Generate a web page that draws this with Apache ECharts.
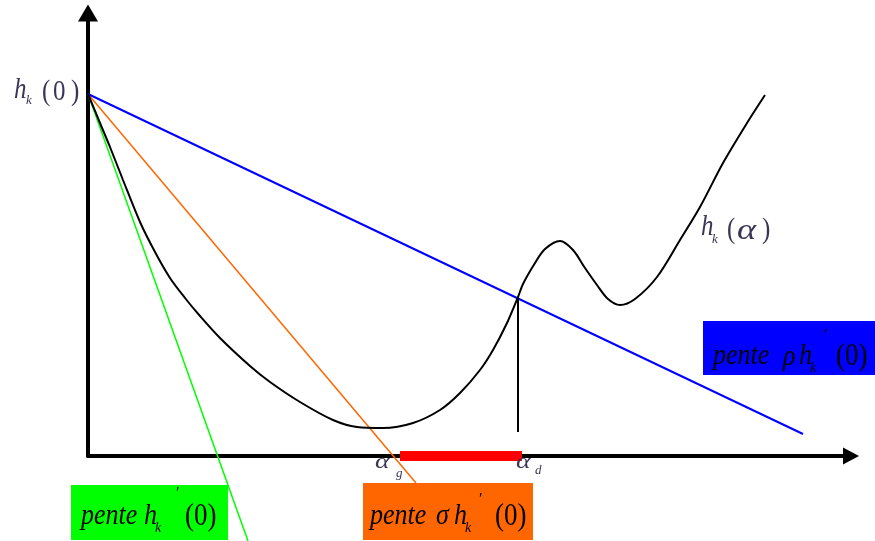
<!DOCTYPE html>
<html><head><meta charset="utf-8">
<script src="https://cdn.jsdelivr.net/npm/echarts@6/dist/echarts.min.js"></script>
<style>html,body{margin:0;padding:0;background:#fff}#c{width:875px;height:541px}</style>
</head><body><div id="c"></div>
<script>
// Curve h_k(alpha)
const curveX = [0, 12, 22, 35, 52, 67, 82, 97, 112, 132, 162, 182, 212, 245, 269, 295, 325, 352, 372, 392, 405, 419, 430, 435, 447, 457, 472, 485, 497, 509, 520, 532, 547, 569, 592, 612, 635, 659, 677];
const curveY = [362, 333, 309, 276, 234, 204, 178, 158, 140, 118, 90, 74, 54, 36, 29, 28, 33, 46, 63, 86, 106, 133, 159, 172, 193, 207, 215, 206, 188, 171, 157, 151, 157, 179, 216, 249, 293, 333, 361];
// Straight lines from h_k(0)
const rhoLineX = [0, 715];
const rhoLineY = [362, 22];
const sigmaLineX = [0, 328];
const sigmaLineY = [362, -27];
const slopeLineX = [0, 160];
const slopeLineY = [362, -85];
// Vertical at alpha_d and admissible interval
const alphaDX = [430, 430];
const alphaDY = [159, 24];
const intervalX = [312, 434];
const intervalY = [0, 0];

const zip = (xs, ys) => xs.map((x, i) => [x, ys[i]]);
const FONT = '"Liberation Serif", "DejaVu Serif", serif';
const LBL = '#3b3556';

function txt(x, y, text, size, italic, color, sy, sx) {
  return {
    type: 'text', x: x, y: y, z: 10, scaleY: sy || 1, scaleX: sx || 1,
    style: {
      text: text, fill: color,
      font: (italic ? 'italic ' : '') + size + 'px ' + FONT,
      textAlign: 'left', textVerticalAlign: 'middle', align: 'left', verticalAlign: 'middle'
    }
  };
}
function box(x, y, w, h, color) {
  return { type: 'rect', z: 1, shape: { x: x, y: y, width: w, height: h }, style: { fill: color } };
}

const chart = echarts.init(document.getElementById('c'), null, { renderer: 'canvas' });

function lineSeries(data, color, width, z) {
  return {
    type: 'line', data: data, symbol: 'none', clip: false, silent: true, z: z || 2,
    lineStyle: { color: color, width: width, cap: 'butt' }, animation: false
  };
}

const S = 1.15;
chart.setOption({
  animation: false,
  backgroundColor: '#fff',
  grid: { left: 88, right: 24, top: 13, bottom: 85 },
  xAxis: {
    type: 'value', min: 0, max: 763,
    axisLine: { show: true, onZero: false, lineStyle: { color: '#000', width: 4 }, symbol: ['none', 'triangle'], symbolSize: [17, 16] },
    axisTick: { show: false }, axisLabel: { show: false }, splitLine: { show: false }
  },
  yAxis: {
    type: 'value', min: 0, max: 443,
    axisLine: { show: true, onZero: false, lineStyle: { color: '#000', width: 4 }, symbol: ['none', 'triangle'], symbolSize: [20, 17] },
    axisTick: { show: false }, axisLabel: { show: false }, splitLine: { show: false }
  },
  series: [
    lineSeries(zip(slopeLineX, slopeLineY), '#00ff00', 1.5),
    lineSeries(zip(sigmaLineX, sigmaLineY), '#ff6600', 1.5),
    lineSeries(zip(rhoLineX, rhoLineY), '#0000ff', 2),
    Object.assign(lineSeries(zip(curveX, curveY), '#000', 2, 3), { smooth: 0.3 }),
    lineSeries(zip(alphaDX, alphaDY), '#000', 2),
    lineSeries(zip(intervalX, intervalY), '#ff0000', 10, 4)
  ],
  graphic: [
    box(71, 485, 157, 55, '#00ff00'),
    box(363, 483, 170, 57, '#ff6600'),
    box(703, 321, 180, 54, '#0000ff'),
    // h_k(0)
    txt(14, 90, 'h', 25, true, LBL, S),
    txt(26, 101, 'k', 13, true, LBL),
    txt(42, 92, '(', 25, false, LBL, S),
    txt(53, 92, '0', 25, false, LBL, S),
    txt(71, 92, ')', 25, false, LBL, S),
    // h_k(alpha)
    txt(701, 227, 'h', 25, true, LBL, S),
    txt(712, 240, 'k', 13, true, LBL),
    txt(727, 230, '(', 25, false, LBL, S),
    txt(737, 231, 'α', 26, true, LBL, S, 1.4),
    txt(762, 230, ')', 25, false, LBL, S),
    // alpha_g, alpha_d
    txt(375, 462, 'α', 22, true, LBL, 1, 1.25),
    txt(396, 474, 'g', 13, true, LBL),
    txt(516, 462, 'α', 22, true, LBL, 1, 1.25),
    txt(535, 471, 'd', 13, true, LBL),
    // green box text
    txt(81, 516, 'pente', 26, true, '#000', S),
    txt(144, 516, 'h', 26, true, '#000', S),
    txt(155, 528, 'k', 14, true, '#000'),
    txt(176, 494, '\u2032', 16, false, '#000'),
    txt(185, 517, '(0)', 27, false, '#000', S),
    // orange box text
    txt(370, 516, 'pente', 26, true, '#000', S),
    txt(436, 516, 'σ', 26, true, '#000', S),
    txt(454, 516, 'h', 26, true, '#000', S),
    txt(465, 528, 'k', 14, true, '#000'),
    txt(479, 500, '\u2032', 16, false, '#000'),
    txt(495, 517, '(0)', 27, false, '#000', S),
    // blue box text
    txt(713, 356, 'pente', 26, true, '#000', S),
    txt(783, 357, 'ρ', 26, true, '#000', S),
    txt(799, 356, 'h', 26, true, '#000', S),
    txt(810, 368, 'k', 14, true, '#000'),
    txt(824, 336, '\u2032', 16, false, '#000'),
    txt(836, 357, '(0)', 27, false, '#000', S)
  ]
});
</script>
</body></html>
